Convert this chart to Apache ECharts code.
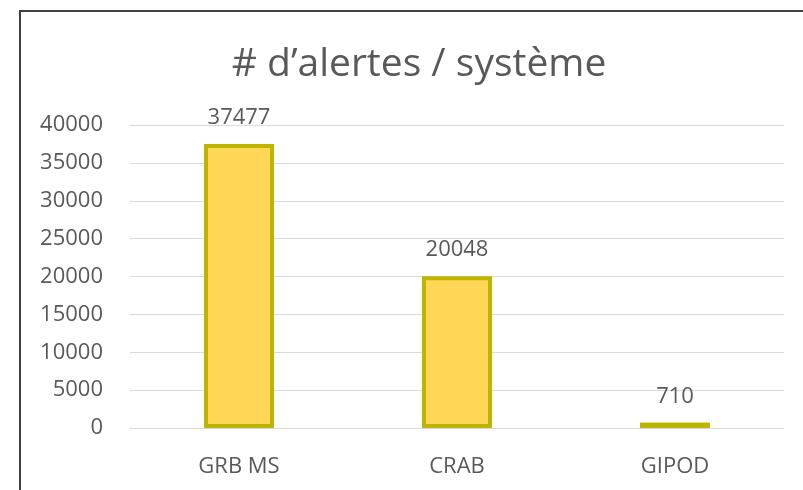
<!DOCTYPE html>
<html>
<head>
<meta charset="utf-8">
<script src="https://cdn.jsdelivr.net/npm/echarts@6/dist/echarts.min.js"></script>
<style>
  html, body { margin: 0; padding: 0; background: #fff; }
  #frame {
    position: absolute; left: 19px; top: 10px; width: 800px; height: 490px;
    border-left: 2px solid #404040; border-top: 2px solid #404040;
  }
  #main { position: absolute; left: 0; top: 0; width: 803px; height: 490px; }
</style>
</head>
<body>
<div id="frame"></div>
<div id="main"></div>
<script>
  const categories = ['GRB MS', 'CRAB', 'GIPOD'];
  const alertCounts = [37477, 20048, 710];
  const yTicks = [0, 5000, 10000, 15000, 20000, 25000, 30000, 35000, 40000];

  const myChart = echarts.init(document.getElementById('main'));

  myChart.setOption({
    animation: false,
    textStyle: { fontFamily: '"Open Sans", sans-serif' },
    title: {
      text: '# d\u2019alertes / système',
      left: 414,
      textAlign: 'center',
      top: 40,
      textStyle: { color: '#595959', fontSize: 39, fontWeight: 'normal', fontFamily: '"Open Sans", sans-serif' }
    },
    grid: { left: 130, right: 19, top: 125, bottom: 62 },
    xAxis: {
      type: 'category',
      data: categories,
      axisLine: { lineStyle: { color: '#d9d9d9', width: 1 } },
      axisTick: { show: false },
      axisLabel: { color: '#595959', fontSize: 22, margin: 28 }
    },
    yAxis: {
      type: 'value',
      min: yTicks[0],
      max: yTicks[yTicks.length - 1],
      interval: 5000,
      axisLine: { show: false },
      axisTick: { show: false },
      splitLine: { lineStyle: { color: '#d9d9d9', width: 1 } },
      axisLabel: { color: '#595959', fontSize: 22, margin: 27, formatter: (v) => String(v) }
    },
    series: [
      {
        type: 'bar',
        data: alertCounts,
        barWidth: 70,
        itemStyle: {
          color: '#FFD655',
          borderColor: '#BDB500',
          borderWidth: 4
        },
        label: {
          show: true,
          position: 'top',
          distance: 15,
          color: '#595959',
          fontSize: 22
        }
      }
    ]
  });
</script>
</body>
</html>
